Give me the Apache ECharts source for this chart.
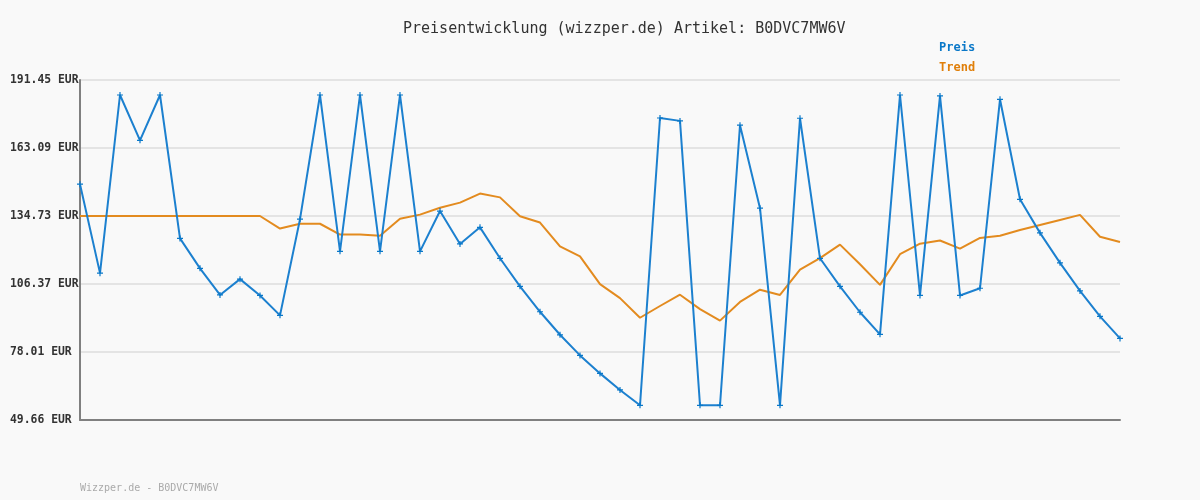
<!DOCTYPE html>
<html>
<head>
<meta charset="utf-8">
<script src="https://cdn.jsdelivr.net/npm/echarts@6/dist/echarts.min.js"></script>
<style>
html,body{margin:0;padding:0;background:#f9f9f9;}
#c{width:1200px;height:500px;}
</style>
</head>
<body>
<div id="c"></div>
<script>
const categories = Array.from({length: 53}, (_, i) => String(i + 1));
const preis = [148.0, 110.9, 185.2, 166.3, 185.2, 125.4, 112.9, 101.8, 108.4, 101.6,
  93.3, 133.4, 185.2, 120.0, 185.2, 120.0, 185.2, 120.0, 136.8, 123.1,
  130.0, 117.1, 105.4, 94.8, 85.2, 76.6, 69.1, 62.2, 55.8, 175.6,
  174.4, 55.8, 55.8, 172.6, 138.0, 55.8, 175.5, 117.1, 105.4, 94.6,
  85.4, 185.2, 101.6, 184.8, 101.6, 104.6, 183.4, 141.7, 127.7, 115.2,
  103.5, 92.9, 83.7];
const trend = [134.73, 134.73, 134.73, 134.73, 134.73, 134.73, 134.73, 134.73, 134.73, 134.73,
  129.5, 131.5, 131.5, 127.0, 127.0, 126.5, 133.6, 135.3, 138.2, 140.3,
  144.1, 142.5, 134.6, 132.0, 122.1, 117.9, 106.3, 100.5, 92.3, 97.2,
  101.9, 95.9, 91.1, 98.9, 104.0, 101.8, 112.4, 117.2, 122.8, 114.6,
  106.0, 118.8, 123.2, 124.5, 121.1, 125.6, 126.5, 128.9, 131.0, 133.1,
  135.2, 126.1, 123.9];
const yTicks = [49.66, 78.01, 106.37, 134.73, 163.09, 191.45];

const chart = echarts.init(document.getElementById('c'));
const mono = 'DejaVu Sans Mono';
chart.setOption({
  animation: false,
  backgroundColor: '#f9f9f9',
  title: [
    {text: 'Preisentwicklung (wizzper.de) Artikel: B0DVC7MW6V', left: 398, top: 17,
     textStyle: {fontFamily: mono, fontSize: 15, fontWeight: 'normal', color: '#333'}},
    {text: 'Wizzper.de - B0DVC7MW6V', left: 75, top: 478,
     textStyle: {fontFamily: mono, fontSize: 10, fontWeight: 'normal', color: '#aaa'}}
  ],
  legend: {
    orient: 'vertical', left: 929, top: 36, itemWidth: 0, itemHeight: 14, itemGap: 6,
    icon: 'rect',
    textStyle: {fontFamily: mono, fontSize: 12, fontWeight: 'bold'},
    data: [
      {name: 'Preis', textStyle: {color: '#0a78c8'}},
      {name: 'Trend', textStyle: {color: '#e07f0a'}}
    ]
  },
  grid: {left: 80, right: 80, top: 80, height: 340, containLabel: false},
  xAxis: {
    type: 'category', data: categories, boundaryGap: false,
    axisLine: {lineStyle: {color: '#808080', width: 2}},
    axisTick: {show: false}, axisLabel: {show: false}, splitLine: {show: false}
  },
  yAxis: {
    type: 'value', min: yTicks[0], max: yTicks[yTicks.length - 1],
    axisLine: {show: true, lineStyle: {color: '#808080', width: 2}},
    axisTick: {show: false, customValues: yTicks},
    axisLabel: {
      customValues: yTicks, align: 'left', margin: 70,
      fontFamily: mono, fontSize: 11.4, fontWeight: 'bold', color: '#333',
      formatter: v => v.toFixed(2) + ' EUR'
    },
    splitLine: {show: true, lineStyle: {color: '#e4e4e4', width: 2}}
  },
  series: [
    {name: 'Preis', type: 'line', data: preis, color: '#1c80cf',
     lineStyle: {width: 2, color: '#1c80cf'},
     symbol: 'path://M2,0 L3,0 L3,2 L5,2 L5,3 L3,3 L3,5 L2,5 L2,3 L0,3 L0,2 L2,2 Z',
     symbolSize: 6, showSymbol: true, itemStyle: {color: '#0a78c8'}, z: 3},
    {name: 'Trend', type: 'line', data: trend, color: '#e38b1f',
     lineStyle: {width: 2, color: '#e38b1f'}, showSymbol: false, symbol: 'none', z: 2}
  ]
});
</script>
</body>
</html>
